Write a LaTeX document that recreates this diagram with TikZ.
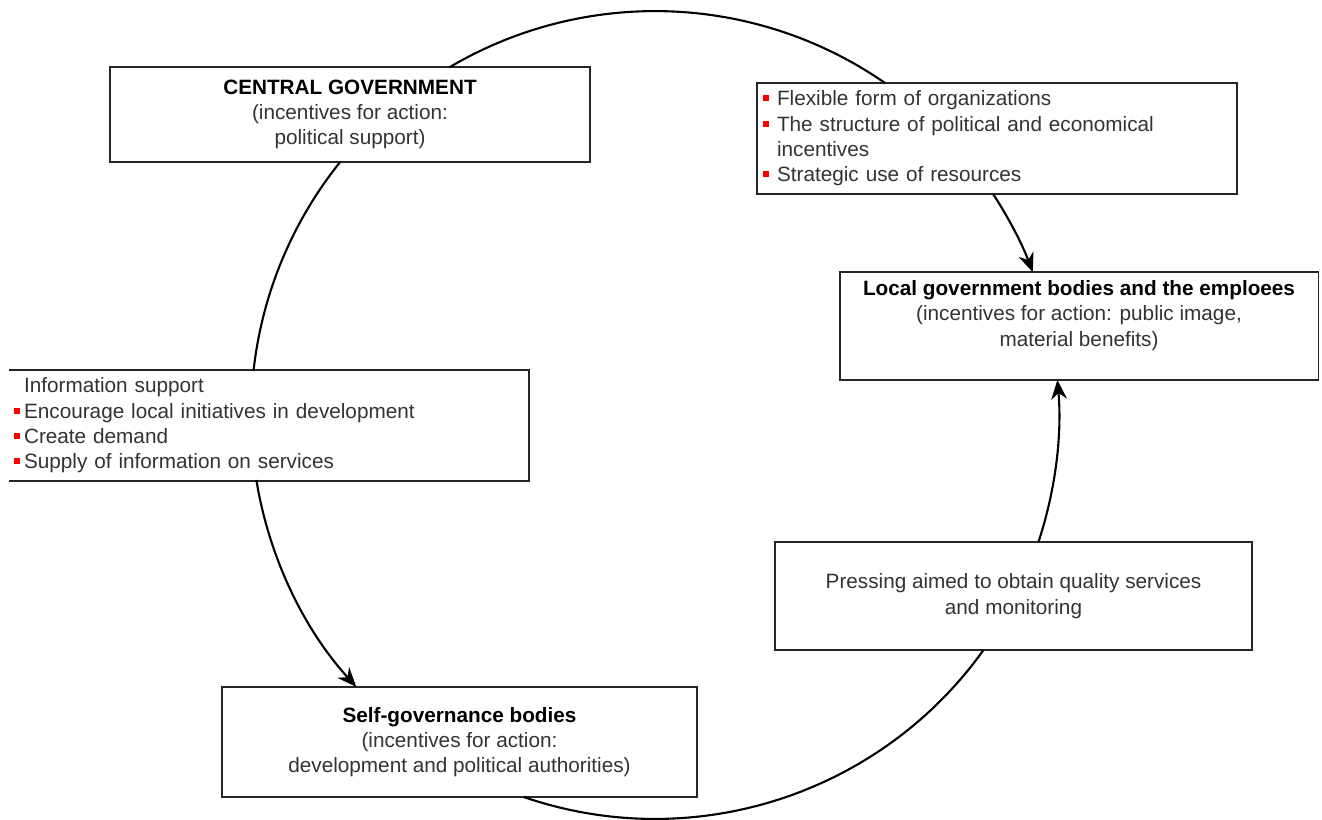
\documentclass[tikz,border=0pt]{standalone}
\usepackage{fontspec}
\setmainfont{Liberation Sans}
\usetikzlibrary{arrows.meta}
\newcommand{\redbul}[1][0.28cm]{\makebox[#1][l]{\textcolor{red}{\rule[0.09cm]{0.12cm}{0.12cm}}}}

\begin{document}
\begin{tikzpicture}[x=0.02cm,y=0.02cm,
    box/.style={draw=black!85,line width=1.1pt,fill=white,inner sep=0pt,
      text=black!80,font=\fontsize{11.8}{14.4}\selectfont},
    rim/.style={line width=1.2pt},
    flow/.style={line width=1.2pt,-{Stealth[length=11pt,width=9pt]}}]
    \useasboundingbox (0,0) rectangle (1322,-820);
    % Centro do ciclo
    \coordinate (O) at (655,-415);
    % Caixas
    \node[box,minimum width=9.6cm,minimum height=1.9cm,align=center] (central) at (350,-114.5)
        {\textbf{\textcolor{black}{CENTRAL GOVERNMENT}}\\(incentives for action:\\political support)};
    \node[box,minimum width=9.6cm,minimum height=2.22cm,text width=9.36cm,inner xsep=0.12cm,align=left] (flexible) at (997,-138.5)
        {\redbul Flexible form of organizations\\
         \redbul The structure of political and economical\\
         \hspace*{0.28cm}incentives\\
         \redbul Strategic use of resources};
    \node[box,draw=none,minimum width=10.36cm,minimum height=2.18cm,text width=10.2cm,inner xsep=0.08cm,align=left] (info) at (269,-425.5)
        {\hspace*{0.2cm}Information support\\
         \redbul[0.2cm]Encourage local initiatives in development\\
         \redbul[0.2cm]Create demand\\
         \redbul[0.2cm]Supply of information on services};
    \draw[black!85,line width=1.1pt] (info.north west) -- (info.north east) -- (info.south east) -- (info.south west);
    \node[box,minimum width=9.58cm,minimum height=2.16cm,align=center] (local) at (1079,-326)
        {\textbf{\textcolor{black}{Local government bodies and the emploees}}\\(incentives for action: public image,\\material benefits)\\ \mbox{}};
    \node[box,minimum width=9.54cm,minimum height=2.16cm,align=center] (pressing) at (1013.5,-596)
        {Pressing aimed to obtain quality services\\and monitoring};
    \node[box,minimum width=9.5cm,minimum height=2.2cm,align=center] (self) at (459.5,-742)
        {\textbf{\textcolor{black}{Self-governance bodies}}\\(incentives for action:\\development and political authorities)};
    % Arcos do ciclo
    \draw[rim] (O) ++(120.6:8.08cm) arc[start angle=120.6,end angle=55.3,radius=8.08cm];
    \draw[rim] (O) ++(141.2:8.08cm) arc[start angle=141.2,end angle=173.75,radius=8.08cm];
    \draw[flow] (O) ++(189.26:8.08cm) arc[start angle=189.26,end angle=222.3,radius=8.08cm];
    \draw[rim] (O) ++(251:8.08cm) arc[start angle=251,end angle=324.4,radius=8.08cm];
    \draw[flow] (O) ++(341.7:8.08cm) arc[start angle=341.7,end angle=364.97,radius=8.08cm];
    \draw[flow] (O) ++(33.2:8.08cm) arc[start angle=33.2,end angle=20.7,radius=8.08cm];
\end{tikzpicture}
\end{document}
